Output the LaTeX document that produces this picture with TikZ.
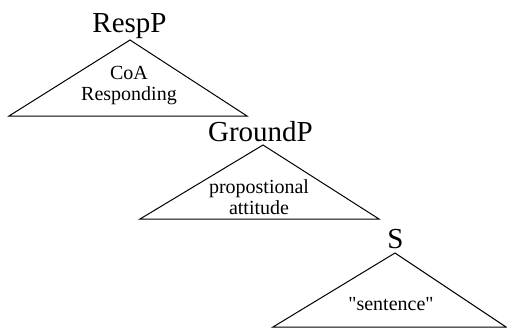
\documentclass[tikz,border=0pt]{standalone}
\usepackage{fontspec}
\setmainfont{Liberation Serif}[Ligatures=TeXOff]
\usetikzlibrary{positioning}

\begin{document}
\begin{tikzpicture}[x=1pt, y=-1pt,
    phrase/.style={font=\fontsize{29}{30}\selectfont, inner sep=0pt, anchor=base},
    content/.style={font=\fontsize{20}{21}\selectfont, align=center, inner sep=0pt},
    tri/.style={draw, line width=1pt}
]
\useasboundingbox (0,0) rectangle (507,330);
% RespP
\coordinate (top1) at (130,40);
\coordinate (left1) at (9,116);
\coordinate (right1) at (247,116);
\draw[tri] (top1) -- (left1) -- (right1) -- cycle;
\node[phrase] (respp) at (129.5,32) {RespP};
\node[content] (coa) at (129,86) {CoA\\Responding};
% GroundP
\coordinate (top2) at (263,145);
\coordinate (left2) at (140,219);
\coordinate (right2) at (379,219);
\draw[tri] (top2) -- (left2) -- (right2) -- cycle;
\node[phrase] (groundp) at (260.5,141) {GroundP};
\node[content] (attitude) at (259,197) {propostional\\attitude};
% S
\coordinate (top3) at (395,253);
\coordinate (left3) at (273,327);
\coordinate (right3) at (506,327);
\draw[tri] (top3) -- (left3) -- (right3) -- cycle;
\node[phrase] (s) at (395.5,248) {S};
\node[content, anchor=base] (sentence) at (391,310) {"sentence"};
\end{tikzpicture}
\end{document}
